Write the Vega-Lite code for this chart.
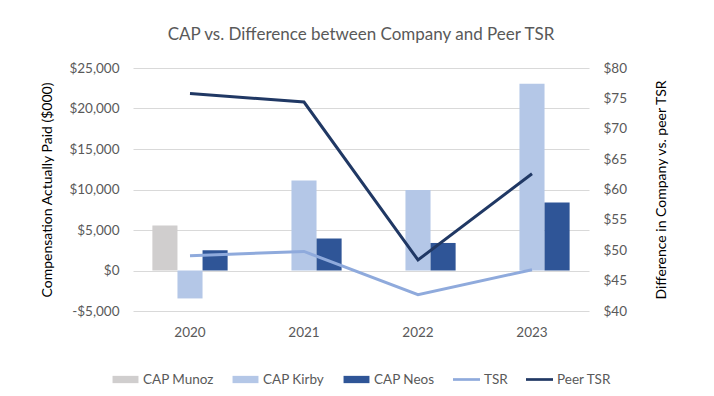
{
  "$schema": "https://vega.github.io/schema/vega-lite/v6.json",
  "width": 456,
  "height": 243,
  "autosize": {"type": "none"},
  "padding": {"left": 133, "top": 68, "right": 125, "bottom": 85},
  "background": "white",
  "config": {
    "font": "Lato",
    "view": {"stroke": null},
    "axis": {"labelFont": "Lato", "titleFont": "Lato", "labelColor": "#595959", "labelFontSize": 13.5, "titleFontWeight": "normal", "titleColor": "#000000", "titleFontSize": 14}
  },
  "title": {"text": "CAP vs. Difference between Company and Peer TSR", "anchor": "middle", "font": "Lato", "fontSize": 17, "fontWeight": "normal", "color": "#595959", "offset": 17},
  "data": {"values": [
    {"year": "2020", "series": "CAP Munoz", "value": 5550, "kind": "bar"},
    {"year": "2020", "series": "CAP Kirby", "value": -3450, "kind": "bar"},
    {"year": "2020", "series": "CAP Neos", "value": 2500, "kind": "bar"},
    {"year": "2021", "series": "CAP Kirby", "value": 11100, "kind": "bar"},
    {"year": "2021", "series": "CAP Neos", "value": 3950, "kind": "bar"},
    {"year": "2022", "series": "CAP Kirby", "value": 9950, "kind": "bar"},
    {"year": "2022", "series": "CAP Neos", "value": 3400, "kind": "bar"},
    {"year": "2023", "series": "CAP Kirby", "value": 23050, "kind": "bar"},
    {"year": "2023", "series": "CAP Neos", "value": 8400, "kind": "bar"},
    {"year": "2020", "series": "TSR", "value": 49.1, "kind": "line"},
    {"year": "2021", "series": "TSR", "value": 49.8, "kind": "line"},
    {"year": "2022", "series": "TSR", "value": 42.7, "kind": "line"},
    {"year": "2023", "series": "TSR", "value": 46.8, "kind": "line"},
    {"year": "2020", "series": "Peer TSR", "value": 75.8, "kind": "line"},
    {"year": "2021", "series": "Peer TSR", "value": 74.4, "kind": "line"},
    {"year": "2022", "series": "Peer TSR", "value": 48.4, "kind": "line"},
    {"year": "2023", "series": "Peer TSR", "value": 62.6, "kind": "line"}
  ]},
  "encoding": {
    "x": {"field": "year", "type": "nominal", "sort": ["2020", "2021", "2022", "2023"],
      "scale": {"paddingInner": 0.34, "paddingOuter": 0.17},
      "axis": {"title": null, "labelAngle": 0, "domain": false, "ticks": false, "labelPadding": 14, "grid": false}},
    "color": {"field": "series", "type": "nominal",
      "scale": {"domain": ["CAP Munoz", "CAP Kirby", "CAP Neos", "TSR", "Peer TSR"], "range": ["#D0CECE", "#B4C7E7", "#2F5597", "#8FAADC", "#203864"]},
      "legend": {"title": null, "orient": "none", "direction": "horizontal", "legendX": -21, "legendY": 298,
        "labelFont": "Lato", "labelFontSize": 13.5, "labelColor": "#595959", "columnPadding": 18, "labelOffset": 4, "symbolSize": 729,
        "encode": {"symbols": {"update": {
          "shape": {"signal": "indexof(['TSR','Peer TSR'], datum.value) >= 0 ? 'M-1,-0.1H1V0.1H-1Z' : 'M-0.96,-0.27H0.96V0.27H-0.96Z'"},
          "fill": {"scale": "color", "field": "value"},
          "stroke": {"value": "transparent"},
          "strokeWidth": {"value": 0},
          "opacity": {"value": 1}
        }}}}
    }
  },
  "layer": [
    {
      "transform": [{"filter": "datum.kind == 'bar'"}],
      "mark": {"type": "bar"},
      "encoding": {
        "xOffset": {"field": "series", "type": "nominal", "scale": {"domain": ["CAP Munoz", "CAP Kirby", "CAP Neos"], "paddingInner": 0, "paddingOuter": 0}},
        "y": {"field": "value", "type": "quantitative",
          "scale": {"domain": [-5000, 25000], "nice": false, "zero": false},
          "axis": {"title": "Compensation Actually Paid ($000)", "values": [-5000, 0, 5000, 10000, 15000, 20000, 25000],
            "labelExpr": "datum.value < 0 ? '-$' + format(-datum.value, ',') : '$' + format(datum.value, ',')",
            "grid": true, "gridColor": "#D9D9D9", "gridWidth": 1, "domain": false, "ticks": false, "labelPadding": 14, "titlePadding": 14}}
      }
    },
    {
      "transform": [{"filter": "datum.kind == 'line'"}],
      "mark": {"type": "line", "strokeWidth": 3},
      "encoding": {
        "y": {"field": "value", "type": "quantitative",
          "scale": {"domain": [40, 80], "nice": false, "zero": false},
          "axis": {"orient": "right", "title": "Difference in Company vs. peer TSR", "titleAngle": 270, "values": [40, 45, 50, 55, 60, 65, 70, 75, 80],
            "labelExpr": "'$' + datum.value", "grid": false, "domain": false, "ticks": false, "labelPadding": 14, "titlePadding": 42}}
      }
    }
  ],
  "resolve": {"scale": {"y": "independent"}}
}
